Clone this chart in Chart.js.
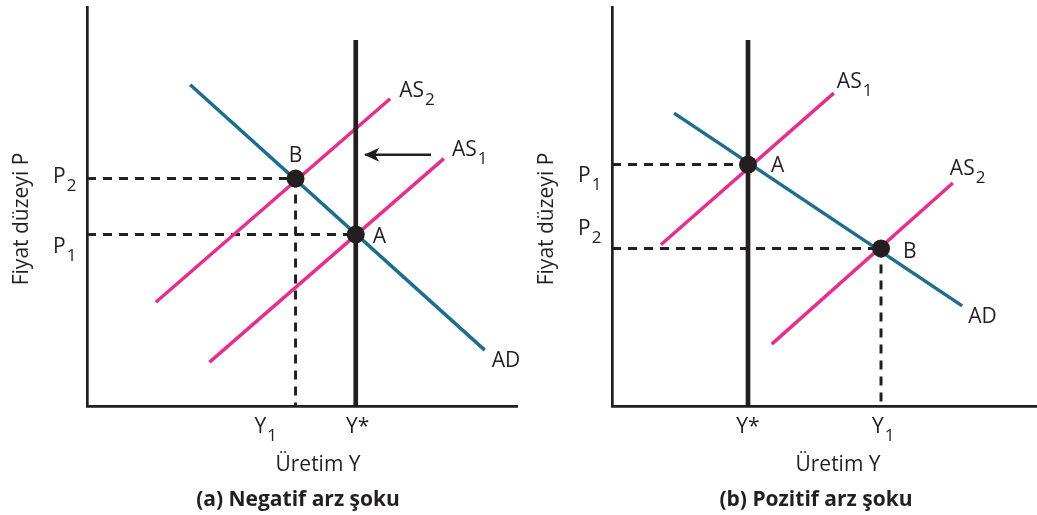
<!DOCTYPE html>
<html><head><meta charset="utf-8">
<script src="https://cdn.jsdelivr.net/npm/chart.js@4.4.1/dist/chart.umd.min.js"></script>
<style>
html,body{margin:0;padding:0;background:#fff;}
#wrap{position:relative;width:1037px;height:515px;overflow:hidden;}
canvas{position:absolute;left:0;top:0;}
</style></head><body>
<div id="wrap"><canvas id="ca" width="1037" height="515"></canvas><canvas id="cb" width="1037" height="515"></canvas></div>
<script>
// ---------- Panel (a): Negatif arz şoku ----------
const aYstar = 62.5;          // potential output Y*
const aY1 = 48.5;             // new output Y1
const aP1 = 43;               // initial price level P1
const aP2 = 57;               // new price level P2
const aYstarTop = 91.7;
const aAD  = [[24, 80.5], [92.5, 14]];
const aAS1 = [[28.5, 11], [83, 62]];
const aAS2 = [[16, 26], [70.5, 77]];
const aArrow = [[80, 63], [64.7, 63]];
const aPoints = [[aYstar, aP1], [aY1, aP2]];   // A, B

// ---------- Panel (b): Pozitif arz şoku ----------
const bYstar = 32;
const bY1 = 63.3;
const bP1 = 60.5;
const bP2 = 39.5;
const bYstarTop = 91.7;
const bAD  = [[14.6, 73.4], [82.4, 25.1]];
const bAS1 = [[11.5, 40.4], [52.2, 78.4]];
const bAS2 = [[37.6, 15.5], [80.2, 55.9]];
const bPoints = [[bYstar, bP1], [bY1, bP2]];   // A, B

const FONT = '"Open Sans", "Noto Sans", sans-serif';
const INK = '#231f20', TEAL = '#1f6d8c', PINK = '#e42f8d';
const LBL = 21;

const xy = arr => arr.map(([x, y]) => ({x, y}));

function lineDs(arr, color, width, order, extra) {
  return Object.assign({data: xy(arr), showLine: true, borderColor: color, backgroundColor: color,
    borderWidth: width, pointRadius: 0, order: order, borderCapStyle: 'butt', tension: 0}, extra || {});
}

function drawSub(ctx, t, s, x, y, align, size) {
  ctx.save();
  ctx.fillStyle = INK; ctx.textBaseline = 'alphabetic'; ctx.textAlign = 'left';
  ctx.font = size + 'px ' + FONT;
  const w1 = ctx.measureText(t).width;
  const subSize = Math.round(size * 0.8);
  ctx.font = subSize + 'px ' + FONT;
  const w2 = s ? ctx.measureText(s).width + 1 : 0;
  const x0 = align === 'center' ? x - (w1 + w2) / 2 : x;
  ctx.font = size + 'px ' + FONT;
  ctx.fillText(t, x0, y);
  if (s) { ctx.font = subSize + 'px ' + FONT; ctx.fillText(s, x0 + w1 + 1, y + 8); }
  ctx.restore();
}

function textPlugin(labels, texts) {
  return {
    id: 'texts',
    afterDraw(chart) {
      const ctx = chart.ctx, xs = chart.scales.x, ys = chart.scales.y;
      labels.forEach(l => {
        const px = xs.getPixelForValue(l.at[0]) + l.dx;
        const py = ys.getPixelForValue(l.at[1]) + l.dy;
        drawSub(ctx, l.t, l.s, px, py, l.align || 'left', LBL);
      });
      texts.forEach(t => {
        ctx.save();
        ctx.fillStyle = INK; ctx.textBaseline = 'alphabetic'; ctx.textAlign = 'center';
        ctx.font = (t.bold ? 'bold ' : '') + t.size + 'px ' + FONT;
        ctx.translate(t.x, t.y);
        if (t.rot) ctx.rotate(t.rot);
        ctx.fillText(t.t, 0, 0);
        ctx.restore();
      });
    }
  };
}

const arrowHead = {
  id: 'arrowHead',
  afterDatasetsDraw(chart) {
    chart.data.datasets.forEach((ds, i) => {
      if (!ds.arrow) return;
      const pts = chart.getDatasetMeta(i).data;
      const p0 = pts[pts.length - 2], p1 = pts[pts.length - 1];
      const ang = Math.atan2(p1.y - p0.y, p1.x - p0.x);
      const ctx = chart.ctx;
      ctx.save(); ctx.translate(p1.x, p1.y); ctx.rotate(ang);
      ctx.fillStyle = INK; ctx.beginPath();
      ctx.moveTo(1, 0); ctx.lineTo(-14, -7); ctx.lineTo(-10, 0); ctx.lineTo(-14, 7); ctx.closePath();
      ctx.fill(); ctx.restore();
    });
  }
};

function makeChart(id, pad, datasets, labels, texts) {
  return new Chart(document.getElementById(id), {
    type: 'scatter',
    data: {datasets},
    options: {
      responsive: false, animation: false, events: [],
      layout: {padding: pad, autoPadding: false},
      plugins: {legend: {display: false}, tooltip: {enabled: false}},
      scales: {
        x: {type: 'linear', min: 0, max: 100, grid: {display: false, drawTicks: false},
            ticks: {display: false}, border: {display: true, color: INK, width: 2.7}},
        y: {type: 'linear', min: 0, max: 100, grid: {display: false, drawTicks: false},
            ticks: {display: false}, border: {display: true, color: INK, width: 2.7}}
      }
    },
    plugins: [arrowHead, textPlugin(labels, texts)]
  });
}

const dash = {borderDash: [9, 7], borderWidth: 3};

// Panel (a)
makeChart('ca', {left: 87, top: 7, right: 520, bottom: 109}, [
  lineDs([[0, aP2], [aY1, aP2]], INK, 3, 6, dash),
  lineDs([[0, aP1], [aYstar, aP1]], INK, 3, 6, dash),
  lineDs([[aY1, aP2], [aY1, 0]], INK, 3, 6, dash),
  lineDs(aAS1, PINK, 3.5, 5),
  lineDs(aAS2, PINK, 3.5, 5),
  lineDs(aAD, TEAL, 3.5, 4),
  lineDs([[aYstar, 0], [aYstar, aYstarTop]], INK, 4.7, 3),
  lineDs(aArrow, INK, 2.5, 2, {arrow: true}),
  {data: xy(aPoints), showLine: false, pointRadius: 9, pointBackgroundColor: INK, pointBorderWidth: 0, order: 0}
], [
  {t: 'AS', s: '2', at: aAS2[1], dx: 9, dy: -2},
  {t: 'AS', s: '1', at: aAS1[1], dx: 8, dy: -3},
  {t: 'B', at: aPoints[1], dx: 0, dy: -17, align: 'center'},
  {t: 'A', at: aPoints[0], dx: 17, dy: 9},
  {t: 'AD', at: aAD[1], dx: 7, dy: 17},
  {t: 'P', s: '2', at: [0, aP2], dx: -34, dy: 4},
  {t: 'P', s: '1', at: [0, aP1], dx: -34, dy: 19},
  {t: 'Y', s: '1', at: [aY1, 0], dx: -41, dy: 27},
  {t: 'Y*', at: [aYstar, 0], dx: 2, dy: 27, align: 'center'}
], [
  {t: 'Üretim Y', x: 318, y: 471, size: 21},
  {t: '(a) Negatif arz şoku', x: 298, y: 506, size: 21, bold: true},
  {t: 'Fiyat düzeyi P', x: 28, y: 219, size: 21, rot: -Math.PI / 2}
]);

// Panel (b)
makeChart('cb', {left: 612, top: 7, right: 0, bottom: 109}, [
  lineDs([[0, bP1], [bYstar, bP1]], INK, 3, 6, dash),
  lineDs([[0, bP2], [bY1, bP2]], INK, 3, 6, dash),
  lineDs([[bY1, bP2], [bY1, 0]], INK, 3, 6, dash),
  lineDs(bAS1, PINK, 3.5, 5),
  lineDs(bAS2, PINK, 3.5, 5),
  lineDs(bAD, TEAL, 3.5, 4),
  lineDs([[bYstar, 0], [bYstar, bYstarTop]], INK, 4.7, 3),
  {data: xy(bPoints), showLine: false, pointRadius: 9, pointBackgroundColor: INK, pointBorderWidth: 0, order: 0}
], [
  {t: 'AS', s: '1', at: bAS1[1], dx: 3, dy: -5},
  {t: 'AS', s: '2', at: bAS2[1], dx: -3, dy: -8},
  {t: 'A', at: bPoints[0], dx: 23, dy: 7},
  {t: 'B', at: bPoints[1], dx: 22, dy: 10},
  {t: 'AD', at: bAD[1], dx: 6, dy: 17},
  {t: 'P', s: '1', at: [0, bP1], dx: -34, dy: 17},
  {t: 'P', s: '2', at: [0, bP2], dx: -34, dy: -13},
  {t: 'Y*', at: [bYstar, 0], dx: 0, dy: 27, align: 'center'},
  {t: 'Y', s: '1', at: [bY1, 0], dx: -9, dy: 27}
], [
  {t: 'Üretim Y', x: 838, y: 471, size: 21},
  {t: '(b) Pozitif arz şoku', x: 816, y: 506, size: 21, bold: true},
  {t: 'Fiyat düzeyi P', x: 553, y: 219, size: 21, rot: -Math.PI / 2}
]);
</script>
</body></html>
